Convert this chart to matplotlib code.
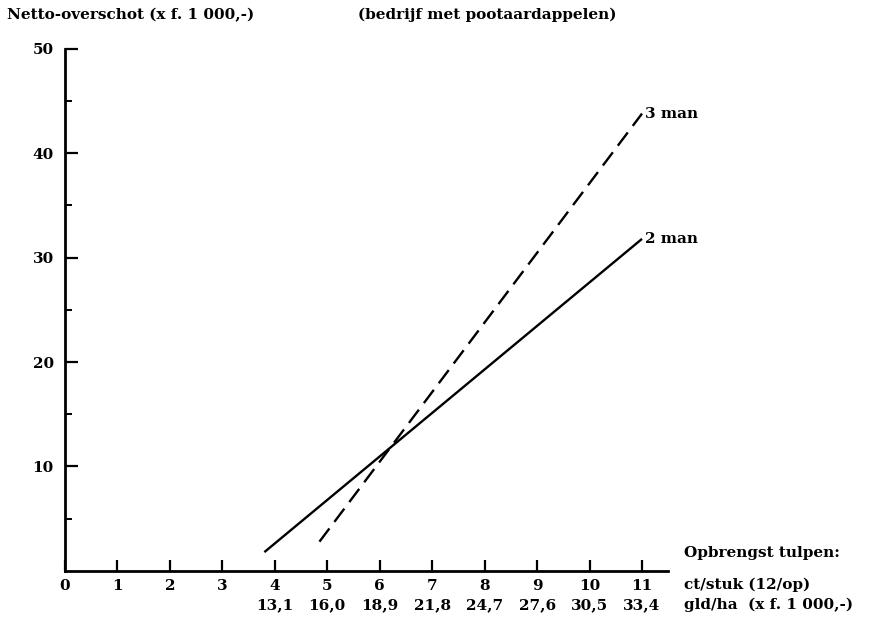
import matplotlib
matplotlib.use('Agg')
import matplotlib.pyplot as plt
import matplotlib.transforms as mtransforms

# DATA ------------------------------------------------------------------------
x_2man = [3.8, 11.0]
y_2man = [1.8, 31.8]
x_3man = [4.85, 11.0]
y_3man = [2.8, 43.8]

x_ticks = list(range(0, 12))
y_ticks = [10, 20, 30, 40, 50]
gld_pos = [4, 5, 6, 7, 8, 9, 10, 11]
gld_labels = ['13,1', '16,0', '18,9', '21,8', '24,7', '27,6', '30,5', '33,4']
# END DATA --------------------------------------------------------------------

plt.rcParams['font.family'] = 'DejaVu Serif'
plt.rcParams['font.weight'] = 'bold'
fs = 11

fig = plt.figure(figsize=(8.91, 6.26), dpi=100)
ax = fig.add_axes([0.073, 0.088, 0.677, 0.834])

ax.plot(x_2man, y_2man, color='black', lw=1.7, solid_capstyle='butt')
ax.plot(x_3man, y_3man, color='black', lw=1.7, dashes=(7, 3.5))

ax.text(11.05, y_3man[-1], '3 man', ha='left', va='center', fontsize=fs, fontweight='bold')
ax.text(11.05, y_2man[-1], '2 man', ha='left', va='center', fontsize=fs, fontweight='bold')

ax.set_xlim(0, 11.5)
ax.set_ylim(0, 50)
for s in ['top', 'right']:
    ax.spines[s].set_visible(False)
for s in ['left', 'bottom']:
    ax.spines[s].set_linewidth(2)

ax.set_xticks(x_ticks)
ax.set_xticklabels([str(v) for v in x_ticks], fontsize=fs, fontweight='bold')
ax.set_yticks(y_ticks)
ax.set_yticklabels([str(v) for v in y_ticks], fontsize=fs, fontweight='bold')
ax.set_yticks([5, 15, 25, 35, 45], minor=True)
ax.tick_params(axis='x', direction='in', length=8, width=1.6, pad=6)
ax.tick_params(axis='y', direction='in', length=9, width=1.6, pad=8)
ax.tick_params(axis='y', which='minor', direction='in', length=5, width=1.4)

trans = mtransforms.blended_transform_factory(ax.transData, ax.transAxes)
for p, lab in zip(gld_pos, gld_labels):
    ax.text(p, -0.065, lab, transform=trans, ha='center', va='center',
            fontsize=fs, fontweight='bold')

fig.text(684 / 891, 1 - 553 / 626, 'Opbrengst tulpen:', ha='left', va='center',
         fontsize=fs, fontweight='bold')
fig.text(684 / 891, 1 - 585 / 626, 'ct/stuk (12/op)', ha='left', va='center',
         fontsize=fs, fontweight='bold')
fig.text(684 / 891, 1 - 605 / 626, 'gld/ha  (x f. 1 000,-)', ha='left', va='center',
         fontsize=fs, fontweight='bold')

fig.text(7 / 891, 1 - 15 / 626, 'Netto-overschot (x f. 1 000,-)', ha='left', va='center',
         fontsize=fs, fontweight='bold')
fig.text(358 / 891, 1 - 15 / 626, '(bedrijf met pootaardappelen)', ha='left', va='center',
         fontsize=fs, fontweight='bold')

fig.savefig('out.png', dpi=100)
